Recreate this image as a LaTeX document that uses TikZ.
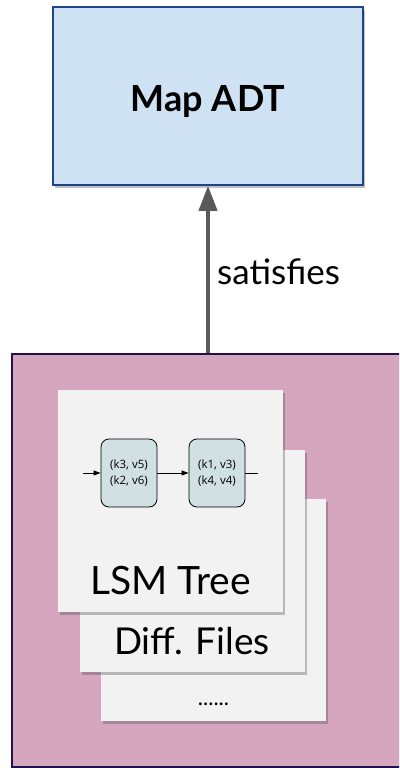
\documentclass[tikz,border=0pt]{standalone}
\usepackage{fontspec}
\setmainfont{Lato}
\newfontfamily\kvfont{Open Sans}
\usetikzlibrary{arrows.meta,shadows}
\definecolor{adtfill}{HTML}{CFE2F3}
\definecolor{adtline}{HTML}{1C4587}
\definecolor{implfill}{HTML}{D5A6BD}
\definecolor{implline}{HTML}{20124D}
\definecolor{cardfill}{HTML}{F2F2F2}
\definecolor{kvfill}{HTML}{D0E0E3}
\definecolor{arrowgray}{HTML}{595959}
\tikzset{
  softshadow/.style={drop shadow={shadow xshift=2pt,shadow yshift=-3pt,opacity=0.35,fill=black!70}},
  adtbox/.style={rectangle,draw=adtline,line width=1.5pt,fill=adtfill,minimum width=310pt,minimum height=178pt,inner sep=0pt,softshadow},
  implbox/.style={rectangle,draw=implline,line width=2pt,fill=implfill,minimum width=428pt,minimum height=413pt,inner sep=0pt},
  card/.style={rectangle,fill=cardfill,minimum width=225pt,minimum height=222pt,inner sep=0pt,softshadow},
  kvbox/.style={rectangle,rounded corners=8pt,draw=black,line width=0.8pt,fill=kvfill,minimum width=56pt,minimum height=68pt,inner sep=0pt,align=center,font=\kvfont\fontsize{11.5}{16}\selectfont},
  cardlabel/.style={inner sep=0pt,anchor=base,font=\fontsize{37}{40}\selectfont},
  kvlink/.style={line width=0.8pt,-{Triangle[length=7pt,width=5pt]}},
}
\begin{document}
\begin{tikzpicture}[x=1pt,y=-1pt]
  \useasboundingbox (0,0) rectangle (399,768);
  \clip (0,0) rectangle (399,768);
  % upper box: the abstract type
  \node[adtbox] (adt) at (208,96) {};
  \node[inner sep=0pt,anchor=base,font=\bfseries\fontsize{36}{40}\selectfont] (adtlabel) at (208,111) {Map ADT};
  % lower box: the implementation, running off the right edge
  \node[implbox] (impl) at (226,560.5) {};
  % stacked cards, back to front
  \node[card] (card3) at (213.5,610) {};
  \node[card] (card2) at (192.5,561) {};
  \node[card] (card1) at (170.5,501) {};
  \node[cardlabel] (dots) at (213.5,705) {\fontsize{22}{24}\selectfont ......};
  \node[cardlabel] (difflabel) at (192,654) {Diff. Files};
  \node[cardlabel,font=\fontsize{39}{42}\selectfont] (lsmlabel) at (170.5,594) {LSM Tree};
  % key/value runs inside the LSM tree card
  \node[kvbox] (kv1) at (129,473) {(k3, v5)\\(k2, v6)};
  \node[kvbox] (kv2) at (217,473) {(k1, v3)\\(k4, v4)};
  \coordinate (kvin) at (83,473);
  \coordinate (kvout) at (258,473);
  \draw[kvlink] (kvin) -- (kv1);
  \draw[kvlink] (kv1) -- (kv2);
  \draw[line width=0.8pt] (kv2) -- (kvout);
  % relation arrow
  \draw[arrowgray,line width=4pt,-{Triangle[length=25pt,width=18pt]}]
    (adt.south |- impl.north) -- (adt.south);
  \node[inner sep=0pt,anchor=base west,font=\fontsize{35}{38}\selectfont] (rel) at (217,284) {satisfies};
\end{tikzpicture}
\end{document}
